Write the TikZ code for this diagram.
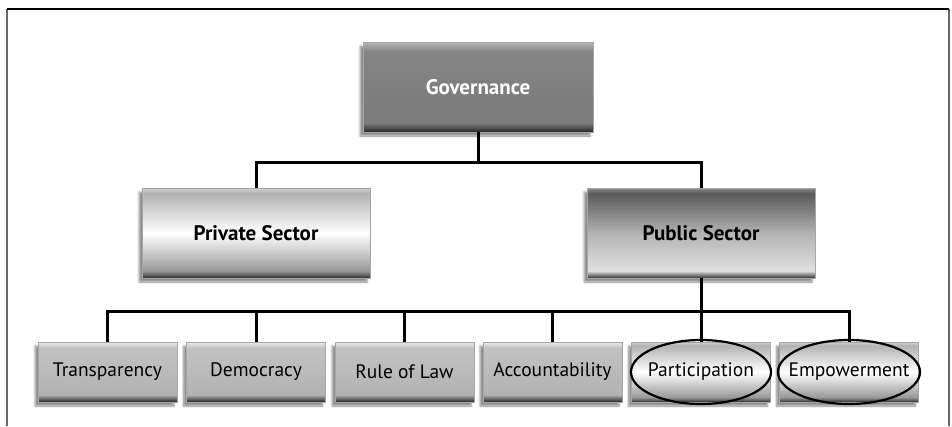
\documentclass[tikz,border=0pt]{standalone}
\usepackage{fontspec}
\setmainfont{PT Sans}
\usetikzlibrary{calc, shadows.blur}

\pgfdeclareverticalshading{govshade}{100bp}{color(0bp)=(black!85); color(25bp)=(black!85); color(30bp)=(black!52); color(70bp)=(black!48); color(75bp)=(black!28); color(100bp)=(black!28)}
\pgfdeclareverticalshading{privshade}{100bp}{color(0bp)=(black!80); color(25bp)=(black!80); color(29bp)=(black!40); color(50bp)=(white); color(72bp)=(black!30); color(75bp)=(black!18); color(100bp)=(black!18)}
\pgfdeclareverticalshading{pubshade}{100bp}{color(0bp)=(black!80); color(25bp)=(black!80); color(29bp)=(black!12); color(50bp)=(black!30); color(72bp)=(black!65); color(75bp)=(black!45); color(100bp)=(black!45)}
\pgfdeclareverticalshading{itemshade}{100bp}{color(0bp)=(black!85); color(25bp)=(black!85); color(31bp)=(black!30); color(70bp)=(black!24); color(75bp)=(black!8); color(100bp)=(black!8)}

\tikzset{
  box/.style={rectangle, inner sep=0pt, draw=black!35, line width=0.6pt,
    blur shadow={shadow xshift=-3pt, shadow yshift=-4pt, shadow blur steps=6, shadow opacity=45}},
  govbox/.style={box, shading=govshade, minimum width=230pt, minimum height=90pt,
    text=white, font=\fontsize{21}{24}\selectfont\bfseries},
  privbox/.style={box, shading=privshade, minimum width=228pt, minimum height=90pt,
    font=\fontsize{21}{24}\selectfont\bfseries},
  pubbox/.style={box, shading=pubshade, minimum width=228pt, minimum height=90pt,
    font=\fontsize{21}{24}\selectfont\bfseries},
  itembox/.style={box, shading=itemshade, minimum width=139pt, minimum height=60pt,
    font=\fontsize{19.5}{22}\selectfont},
  conn/.style={line width=3pt},
  ring/.style={line width=2.2pt}
}

\begin{document}
\begin{tikzpicture}[x=1pt, y=-1pt]
        \useasboundingbox (0,0) rectangle (952,426);

        % frame
        \draw[black!60, line width=1.5pt] (7,426) -- (7,9);
        \draw[black!60, line width=1.5pt] (949,9) -- (949,426);
        \draw[black, line width=1.5pt] (7,9) -- (949,9);

        % boxes
        \node[govbox] (gov) at (478,87) {Governance};
        \node[privbox] (priv) at (256,233) {Private Sector};
        \node[pubbox] (pub) at (701,233) {Public Sector};

        \node[itembox] (tra) at (107.5,372) {Transparency};
        \node[itembox] (dem) at (256,372) {Democracy};
        \node[itembox] (rol) at (404.5,372) {Rule of Law};
        \node[itembox] (acc) at (552.5,372) {Accountability};
        \node[itembox, shading=privshade] (par) at (701,372) {Participation};
        \node[itembox, shading=privshade] (emp) at (849,372) {Empowerment};

        % connectors
        \coordinate (bar1) at (478,162);
        \coordinate (bar2) at (701,311);

        \draw[conn] (gov.south) -- (bar1);
        \draw[conn] (priv.north) |- (bar1) -| (pub.north);

        \draw[conn] (pub.south) -- (bar2);
        \draw[conn] (tra.north) |- (bar2) -| (emp.north);
        \foreach \n in {dem, rol, acc, par}
            \draw[conn] (\n.north) -- (\n.north |- bar2);

        % rings
        \draw[ring] (par) ellipse [x radius=70, y radius=32];
        \draw[ring] (emp) ellipse [x radius=71, y radius=32];
    \end{tikzpicture}
\end{document}
